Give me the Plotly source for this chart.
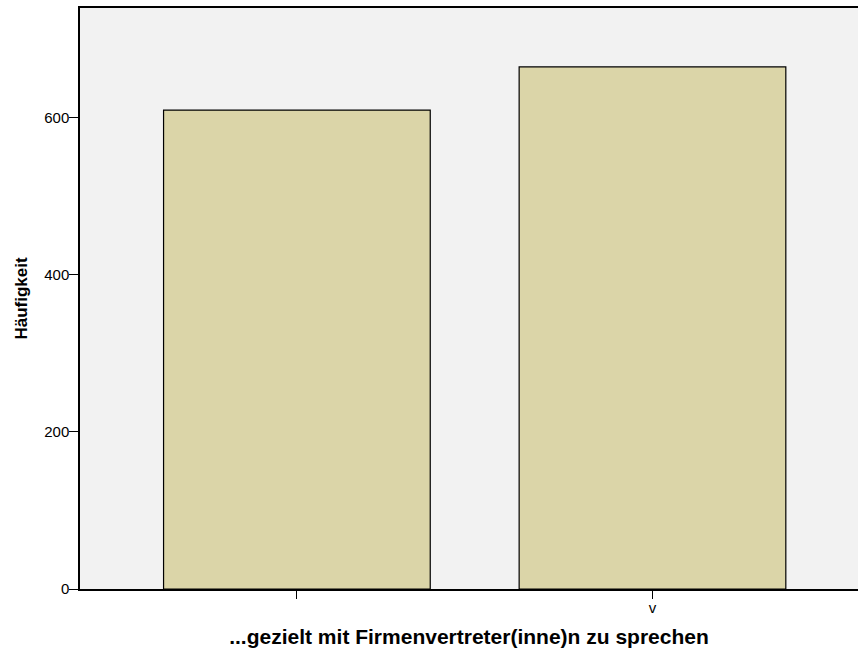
import plotly.graph_objects as go

categories = ["", "v"]
counts = [610, 665]
y_tick_vals = [0, 200, 400, 600]
y_tick_text = ["0", "200", "400", "600"]

x_title = "...gezielt mit Firmenvertreter(inne)n zu sprechen"
y_title = "Häufigkeit"
top_title = "...gezielt mit Firmenvertreter(inne)n zu sprechen"

xpos = list(range(len(categories)))

fig = go.Figure()
fig.add_trace(go.Bar(
    x=xpos, y=counts, width=0.75,
    marker=dict(color="#dbd5a8", line=dict(color="#000000", width=1.2)),
    hoverinfo="skip",
))

fig.update_layout(
    width=858, height=657,
    margin=dict(l=80, r=0, t=8, b=68, autoexpand=False),
    paper_bgcolor="white",
    plot_bgcolor="#f2f2f2",
    showlegend=False,
    font=dict(family="Liberation Sans, Arial, sans-serif", size=15, color="#000000"),
    xaxis=dict(
        range=[-0.61, 1.578],
        tickmode="array", tickvals=xpos, ticktext=categories,
        ticks="outside", ticklen=8, tickcolor="#000000", tickwidth=1.2,
        ticklabelstandoff=-4,
        showline=True, linecolor="#000000", linewidth=1.5, mirror=True,
        showgrid=False, zeroline=False, automargin=False,
        tickfont=dict(size=15),
        title=dict(text="<b>" + x_title + "</b>", font=dict(size=21), standoff=15),
    ),
    yaxis=dict(
        range=[0, 740],
        tickmode="array", tickvals=y_tick_vals, ticktext=y_tick_text,
        ticks="outside", ticklen=9, tickcolor="#000000", tickwidth=1.2,
        ticklabelstandoff=-3,
        showline=True, linecolor="#000000", linewidth=1.5,
        showgrid=False, zeroline=False, automargin=False,
        tickfont=dict(size=15),
        title=dict(text="<b>" + y_title + "</b>", font=dict(size=17), standoff=12),
    ),
)

fig.add_annotation(
    text="<b>" + top_title + "</b>",
    xref="paper", yref="paper", x=(402 - 80) / 778, y=(581 + 8) / 581,
    xanchor="center", yanchor="bottom", showarrow=False,
    font=dict(size=20, color="#000000"),
)

fig.write_html(
    "out.html",
    config={"displayModeBar": False},
    post_script="document.body.style.margin='0';document.body.style.padding='0';",
)
